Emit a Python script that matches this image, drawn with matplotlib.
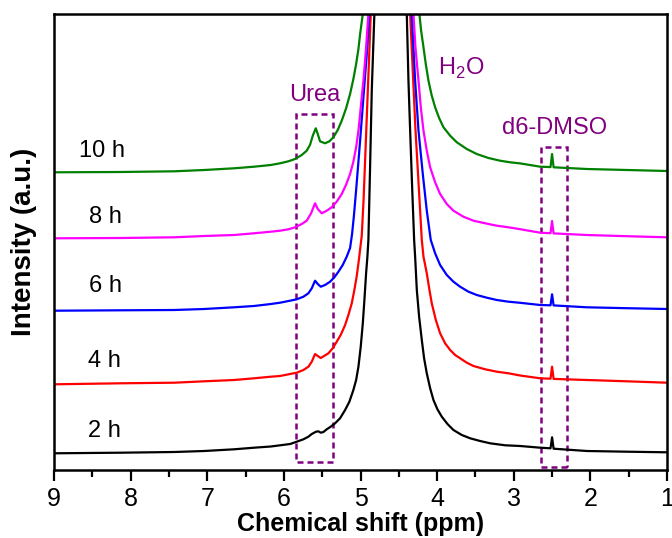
import matplotlib
matplotlib.use("Agg")
import matplotlib.pyplot as plt
from matplotlib.patches import Rectangle

plt.rcParams['font.family'] = ['Liberation Sans', 'DejaVu Sans']

# ---- data (ppm, intensity in arbitrary offset units) ----
ppm_2h = [9.0, 8.13, 7.43, 7.04, 6.65, 6.39, 6.17, 5.919, 5.832, 5.745, 5.68, 5.636, 5.58, 5.55,
          5.519, 5.484, 5.441, 5.389, 5.332, 5.267, 5.201, 5.145, 5.093, 5.057, 5.027, 4.997,
          4.970, 4.949, 4.927, 4.910, 4.897, 4.875, 4.853, 4.819, 4.80, 4.62,
          4.41, 4.396, 4.374, 4.352, 4.326, 4.300, 4.287, 4.265, 4.235, 4.200, 4.170, 4.135,
          4.091, 4.048, 3.996, 3.939, 3.865, 3.787, 3.678, 3.569, 3.439, 3.308, 3.112, 2.916,
          2.655, 2.52, 2.50, 2.48, 2.046, 1.524, 1.0]
int_2h = [16.7, 17.3, 18, 19, 20.7, 22.3, 23.5, 26, 28.3, 30.7, 33.3, 36, 38.3, 38.7,
          37.3, 38, 40.7, 43.3, 46.7, 51.7, 60, 68.3, 80, 90, 103.3, 123.3,
          146.7, 170, 196.7, 213.3, 230, 302.7, 379.3, 456, 480, 5000,
          480, 456, 389, 339, 282.7, 230, 213.3, 180, 153.3, 130, 111.7, 96.7,
          81.7, 70, 60.7, 53.3, 46, 40, 35, 31.7, 29, 26.7, 24.7, 24,
          22.3, 21.7, 32.7, 21.3, 19, 18.3, 17.7]

ppm_4h = [9.0, 8.13, 7.43, 7.04, 6.65, 6.39, 6.17, 6.05, 5.919, 5.832, 5.745, 5.68, 5.636, 5.593,
          5.558, 5.519, 5.476, 5.419, 5.363, 5.310, 5.254, 5.201, 5.158, 5.114, 5.080, 5.049,
          5.023, 5.006, 4.984, 4.96, 4.927, 4.866, 4.85, 4.62,
          4.37, 4.352, 4.283, 4.200, 4.178, 4.135, 4.100, 4.070, 4.017, 3.961, 3.896, 3.830,
          3.765, 3.700, 3.613, 3.526, 3.373, 3.221, 3.069, 2.916, 2.655, 2.52, 2.50, 2.48,
          2.046, 1.524, 1.0]
int_4h = [85.7, 86.7, 87.3, 88.7, 90, 91.7, 93.3, 94, 96, 97.3, 100, 103.3, 108.3, 116,
          114, 112, 114, 116.7, 121.7, 128.3, 135.7, 145, 155, 166.7, 180, 194,
          209, 220, 234, 270, 335, 456, 480, 5000,
          480, 456, 341, 230, 213.3, 196.7, 180, 166.7, 150, 136.7, 126.7, 120,
          115, 111.7, 107.3, 104, 100.7, 98.3, 96.7, 94.5, 91.7, 91.3, 103.3, 91.1,
          90, 88.7, 87.3]

ppm_6h = [9.0, 8.13, 7.43, 7.04, 6.65, 6.39, 6.17, 6.05, 5.919, 5.832, 5.745, 5.68, 5.636, 5.593,
          5.558, 5.519, 5.463, 5.397, 5.341, 5.288, 5.232, 5.180, 5.136, 5.11, 5.085, 5.057,
          5.005, 4.962, 4.918, 4.884, 4.87, 4.62,
          4.35, 4.331, 4.287, 4.243, 4.187, 4.135, 4.083, 4.026, 3.961, 3.874, 3.787, 3.700,
          3.591, 3.483, 3.352, 3.221, 3.069, 2.916, 2.655, 2.52, 2.50, 2.48, 2.046, 1.524, 1.0]
int_6h = [159.3, 159.7, 160, 161, 162.7, 164, 166, 167.3, 169.3, 170.7, 173.3, 176.7, 181.7, 189.3,
          186, 183.3, 185, 188.3, 192.7, 198.3, 205, 213.3, 222, 236, 255, 280,
          329.3, 372.7, 416, 456, 480, 5000,
          480, 456, 389.3, 339.3, 296, 259.3, 230, 216.7, 205, 195, 188.3, 183.3,
          178.3, 175, 172.3, 170, 168.3, 167.2, 165, 164.7, 175.7, 164.6, 162.7, 161.8, 161]

ppm_8h = [9.0, 8.13, 7.43, 7.04, 6.65, 6.39, 6.17, 6.05, 5.941, 5.854, 5.767, 5.702, 5.645, 5.593,
          5.558, 5.506, 5.441, 5.376, 5.311, 5.245, 5.188, 5.136, 5.093, 5.057, 5.027, 5.005,
          4.984, 4.962, 4.944, 4.927, 4.897, 4.88, 4.62,
          4.33, 4.309, 4.283, 4.243, 4.213, 4.178, 4.135, 4.091, 4.026, 3.961, 3.874, 3.787,
          3.657, 3.526, 3.373, 3.221, 3.069, 2.916, 2.655, 2.52, 2.50, 2.48, 2.046, 1.524, 1.0]
int_8h = [231.7, 232, 232.7, 234, 235, 236.7, 238.3, 239.3, 240.7, 242.7, 246, 249.3, 256.7, 266.7,
          261, 256.7, 259.3, 262.7, 268.3, 276, 285.3, 296, 308.3, 322.7, 339.3, 356,
          372.7, 389.3, 406, 422.7, 456, 480, 5000,
          480, 456, 422.7, 389.3, 362.7, 339.3, 319.3, 302.7, 287.7, 276, 266, 259.3,
          253.3, 249.3, 246.7, 244.3, 242.7, 240.8, 237.3, 236.8, 249, 236.6, 235, 233.8, 232.7]

ppm_10h = [9.0, 8.13, 7.43, 7.04, 6.65, 6.39, 6.17, 6.05, 5.941, 5.854, 5.767, 5.702, 5.658, 5.623,
           5.584, 5.558, 5.528, 5.463, 5.406, 5.354, 5.297, 5.245, 5.188, 5.136, 5.093, 5.057,
           5.027, 5.005, 4.970, 4.95, 4.62,
           4.25, 4.231, 4.209, 4.178, 4.148, 4.113, 4.070, 4.026, 3.974, 3.917, 3.830, 3.743,
           3.613, 3.483, 3.330, 3.178, 3.047, 2.916, 2.655, 2.52, 2.50, 2.48, 2.046, 1.524, 1.0]
int_10h = [297.7, 298, 298.7, 300, 301.7, 303.3, 305, 306.7, 308.7, 311, 315, 319.3, 325.3, 334.3,
           341.7, 336, 328.7, 326.7, 328.7, 332.7, 340, 349.3, 361.7, 376, 391, 406,
           421, 436, 456, 480, 5000,
           480, 456, 439.3, 422.7, 406, 389.3, 374.3, 362.7, 352, 342.7, 334.3, 327.7,
           321, 316, 312, 309.3, 307.7, 306.6, 303.3, 302.9, 316, 302.7, 301, 300, 299]

series_ppm = [ppm_2h, ppm_4h, ppm_6h, ppm_8h, ppm_10h]
series_int = [int_2h, int_4h, int_6h, int_8h, int_10h]
series_labels = ["2 h", "4 h", "6 h", "8 h", "10 h"]
series_colors = ["#000000", "#FF0000", "#0000FF", "#FF00FF", "#008000"]
label_pos_ppm = [8.55, 8.55, 8.54, 8.54, 8.68]
label_pos_int = [39, 109, 184, 253, 319]

# annotation boxes: (ppm left, ppm right, intensity bottom, intensity top)
urea_box = [5.84, 5.36, 7.7, 355.7]
dmso_box = [2.65, 2.30, 2.7, 323.3]

x_ticks = [9, 8, 7, 6, 5, 4, 3, 2, 1]

# ---- figure ----
fig = plt.figure(figsize=(6.72, 5.38), dpi=100)
ax = fig.add_axes([54/672, (538-470)/538, 613/672, 456/538])

for p, v, c in zip(series_ppm, series_int, series_colors):
    ax.plot(p, v, color=c, lw=1.6, solid_joinstyle='round', solid_capstyle='round')

for lbl, lx, ly in zip(series_labels, label_pos_ppm, label_pos_int):
    ax.text(lx, ly, lbl, fontsize=17, color='black', ha='left', va='center')

purple = "#800080"
for b in (urea_box, dmso_box):
    ax.add_patch(Rectangle((b[1], b[2]), b[0]-b[1], b[3]-b[2], fill=False,
                           edgecolor=purple, lw=1.8, linestyle=(0, (2.4, 1.6))))

ax.text(5.60, 375, "Urea", fontsize=17, color=purple, ha='center', va='center')
ax.text(3.99, 402, r"H$_\mathregular{2}$O", fontsize=17, color=purple, ha='left', va='center')
ax.text(2.47, 342, "d6-DMSO", fontsize=17, color=purple, ha='center', va='center')

ax.set_xlim(9, 1)
ax.set_ylim(0, 456)
ax.set_xticks(x_ticks)
ax.set_xticklabels([str(t) for t in x_ticks])
ax.set_xticks([t + 0.5 for t in x_ticks[1:]], minor=True)
ax.set_yticks([])
ax.tick_params(axis='x', which='major', direction='out', length=8, width=1.6, labelsize=18, pad=4)
ax.tick_params(axis='x', which='minor', direction='out', length=5, width=1.6)
for s in ax.spines.values():
    s.set_linewidth(1.8)

ax.set_xlabel("Chemical shift (ppm)", fontsize=18, fontweight='bold', labelpad=1)
ax.set_ylabel("Intensity (a.u.)", fontsize=20, fontweight='bold')
ax.yaxis.set_label_coords(-0.028, 0.5)

fig.savefig("out.png", dpi=100)
